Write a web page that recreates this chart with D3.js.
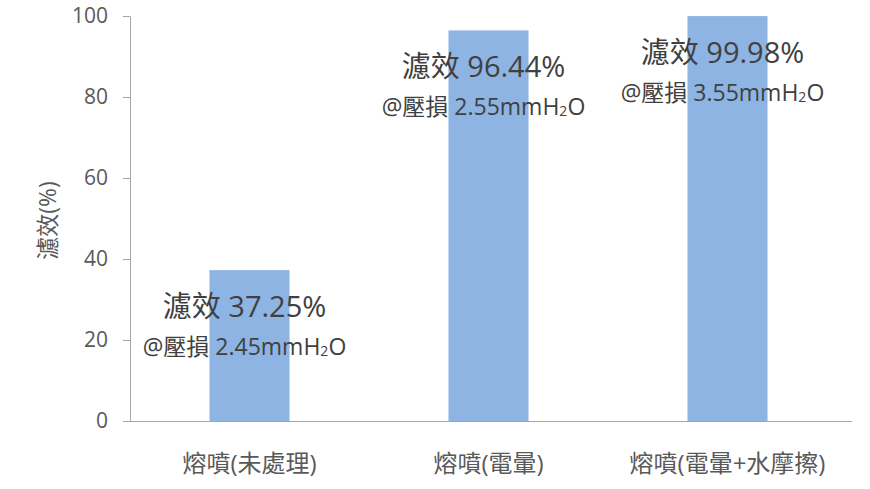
<!DOCTYPE html>
<html>
<head>
<meta charset="utf-8">
<script src="https://cdn.jsdelivr.net/npm/d3@7"></script>
<style>
  body { margin: 0; background: #fff; }
  text { font-family: "Open Sans", "Noto Sans CJK TC", sans-serif; }
</style>
</head>
<body>
<div id="chart"></div>
<script>
// data
const categories = ["熔噴(未處理)", "熔噴(電暈)", "熔噴(電暈+水摩擦)"];
const efficiency = [37.25, 96.44, 99.98];
const pressure = ["2.45", "2.55", "3.55"];
const yTicks = [0, 20, 40, 60, 80, 100];
const yTitle = "濾效(%)";

const W = 870, H = 489;
const margin = { top: 16, right: 23, bottom: 68, left: 130 };
const width = W - margin.left - margin.right;
const height = H - margin.top - margin.bottom;

const svg = d3.select("#chart").append("svg")
    .attr("width", W)
    .attr("height", H);

const g = svg.append("g")
    .attr("transform", `translate(${margin.left},${margin.top})`);

const x = d3.scaleBand()
    .domain(categories)
    .range([0, width])
    .paddingInner(0.665)
    .paddingOuter(0.3325);

const y = d3.scaleLinear()
    .domain([0, 100])
    .range([height, 0]);

// y axis
const yAxis = g.append("g")
    .call(d3.axisLeft(y).tickValues(yTicks).tickSize(7).tickSizeOuter(0).tickPadding(15));
yAxis.select(".domain").attr("stroke", "#a6a6a6");
yAxis.selectAll(".tick line").attr("stroke", "#a6a6a6");
yAxis.selectAll(".tick text")
    .attr("fill", "#595959")
    .style("font-size", "21px");

// bars
g.selectAll(".bar")
    .data(efficiency)
    .join("rect")
    .attr("class", "bar")
    .attr("x", (d, i) => x(categories[i]))
    .attr("y", d => y(d))
    .attr("width", x.bandwidth())
    .attr("height", d => height - y(d))
    .attr("fill", "#8eb4e3");

// x axis
const xAxis = g.append("g")
    .attr("transform", `translate(0,${height})`)
    .call(d3.axisBottom(x).tickSize(0).tickSizeOuter(0).tickPadding(34));
xAxis.select(".domain").attr("stroke", "#a6a6a6").attr("d", `M-6,0.5H${width + 5}`);
xAxis.selectAll(".tick text")
    .attr("fill", "#595959")
    .style("font-size", "24px");

// y title
g.append("text")
    .attr("transform", `translate(-74,${y(50) + 2}) rotate(-90)`)
    .attr("text-anchor", "middle")
    .attr("fill", "#595959")
    .style("font-size", "23px")
    .text(yTitle);

// value labels
const labels = g.selectAll(".label")
    .data(efficiency)
    .join("g")
    .attr("class", "label")
    .attr("transform", (d, i) => `translate(${x(categories[i]) + x.bandwidth() / 2 - 5},${y(d)})`);

labels.append("text")
    .attr("y", 47)
    .attr("text-anchor", "middle")
    .attr("fill", "#404040")
    .style("font-size", "29px")
    .text(d => `濾效 ${d.toFixed(2)}%`);

const sub = labels.append("text")
    .attr("y", 85)
    .attr("text-anchor", "middle")
    .attr("fill", "#404040")
    .style("font-size", "23px");
sub.append("tspan").text((d, i) => `@壓損 ${pressure[i]}mmH`);
sub.append("tspan").attr("dy", 1).style("font-size", "14px").text("2");
sub.append("tspan").attr("dy", -1).text("O");
</script>
</body>
</html>
